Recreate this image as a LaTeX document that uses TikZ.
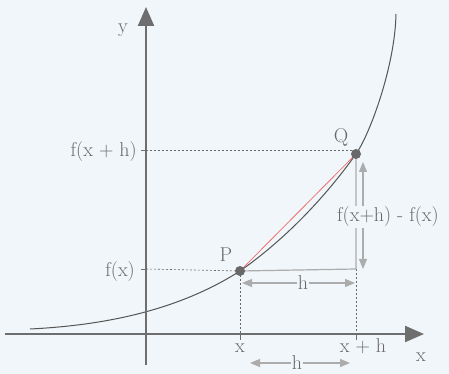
\documentclass[tikz,border=0pt]{standalone}
\usetikzlibrary{arrows.meta}
\definecolor{axisgray}{RGB}{110,110,110}
\definecolor{curvegray}{RGB}{85,85,85}
\definecolor{textgray}{RGB}{104,104,104}
\definecolor{dimgray}{RGB}{172,172,172}
\definecolor{paleblue}{RGB}{240,246,249}
\definecolor{secantred}{RGB}{238,112,112}

\begin{document}
\begin{tikzpicture}[x=1pt,y=1pt,
  lbl/.style={text=textgray, font=\fontsize{20}{22}\selectfont, inner sep=1pt},
  guide/.style={textgray, line width=0.6pt, dash pattern=on 2pt off 2pt},
  dimline/.style={dimgray, line width=1.2pt},
  dimarrow/.style={dimline, {Triangle[length=10pt,width=8pt]}-{Triangle[length=10pt,width=8pt]}},
  dot/.style={circle, fill=textgray, inner sep=0pt, minimum size=10pt}]
\fill[paleblue] (-146,-40) rectangle (303,334);
\useasboundingbox (-146,-40) rectangle (303,334);
\coordinate (xl) at (-141,0);
\coordinate (xr) at (278,0);
\coordinate (yb) at (0,-31);
\coordinate (yt) at (0,327);
\coordinate (P) at (94,63);
\coordinate (Q) at (210,180);
\coordinate (fx) at (0,65);
\coordinate (fxh) at (0,184);
\coordinate (corner) at (210,65);
\coordinate (cstart) at (-116,5);
\coordinate (cend) at (250,320);
\draw[guide] (fxh) -- (fxh -| Q);
\draw[guide] (fx) -- (P);
\draw[guide] (P) -- (P |- xl);
\draw[guide] (corner) -- (corner |- xl);
\draw[dimline] (P) -- (corner) -- (Q);
\draw[curvegray, line width=1pt] (cstart) .. controls (-46,8.5) and (30,22) .. (P)
  .. controls (134,91) and (175,131) .. (Q)
  .. controls (224,200) and (249,268) .. (cend);
\draw[secantred, line width=0.8pt] (P) -- (Q);
\node[dot] (p) at (P) {};
\node[dot] (q) at (Q) {};
\draw[axisgray, line width=2.3pt, -{Triangle[length=19pt,width=16pt]}] (xl) -- (xr);
\draw[axisgray, line width=2.3pt, -{Triangle[length=19pt,width=16pt]}] (yb) -- (yt);
\draw[axisgray, line width=0.8pt] (fxh) -- ++(-5,0);
\draw[axisgray, line width=0.8pt] (fx) -- ++(-5,0);
\draw[axisgray, line width=0.8pt] (P |- xl) -- ++(0,-6);
\draw[axisgray, line width=0.8pt] (corner |- xl) -- ++(0,-6);
\node[lbl, anchor=base] (ylbl) at (-23,301) {y};
\node[lbl, anchor=base] (xlbl) at (275,-28) {x};
\node[lbl, anchor=base east] (fxhlbl) at (-8,177) {f(x + h)};
\node[lbl, anchor=base east] (fxlbl) at (-10,57) {f(x)};
\node[lbl, anchor=base] (plbl) at (80,72) {P};
\node[lbl, anchor=base] (qlbl) at (195,191) {Q};
\node[lbl, anchor=base] (xtick) at (94,-19) {x};
\node[lbl, anchor=base] (xhtick) at (217,-19) {x + h};
\coordinate (dtop) at (217,172);
\coordinate (dbot) at (217,65);
\draw[dimarrow] (dtop) -- (dbot);
\node[lbl, anchor=base west, fill=paleblue] (difflbl) at (190,112) {f(x+h) - f(x)};
\coordinate (ha) at (96,51);
\coordinate (hb) at (209,51);
\draw[dimarrow] (ha) -- node[lbl, fill=paleblue, pos=0.54] (hlbl) {h} (hb);
\coordinate (hc) at (104,-29);
\coordinate (hd) at (204,-29);
\draw[dimarrow] (hc) -- node[lbl, fill=paleblue, inner ysep=0pt, pos=0.47] (hlbl2) {h} (hd);
\end{tikzpicture}
\end{document}
